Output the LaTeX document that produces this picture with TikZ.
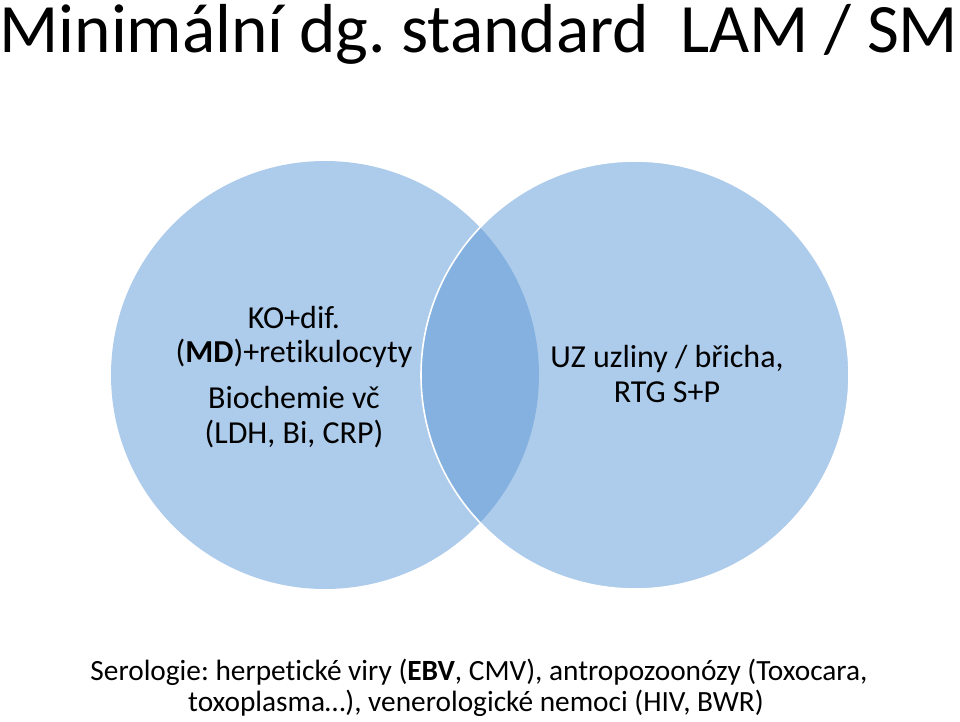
\documentclass[tikz,border=0pt]{standalone}
\usepackage{fontspec}
\setmainfont{Carlito}[Ligatures=NoCommon]
\definecolor{venn}{RGB}{91,151,213}
\begin{document}
\frenchspacing
\begin{tikzpicture}[x=0.75pt,y=-0.75pt,
  vcircle/.style={circle,minimum size=321pt,inner sep=0pt,fill=venn,fill opacity=0.5},
  line/.style={anchor=base,font=\fontsize{24}{29}\selectfont,inner sep=0pt,text=black},
  btext/.style={anchor=base,font=\fontsize{22}{27}\selectfont,inner sep=0pt,text=black}]
\useasboundingbox (0,0) rectangle (960,721);
\node[vcircle] (left) at (325,375) {};
\node[vcircle,draw=white,draw opacity=1,line width=1.2pt] (right) at (635,375) {};
\node[anchor=base,inner sep=0pt,font=\fontsize{52}{62}\selectfont] (title) at (479,52) {Minimální dg. standard\ \ LAM / SM};
\node[line] (l1) at (294,328) {KO+dif.};
\node[line] (l2) at (294,362) {(\textbf{MD})+retikulocyty};
\node[line] (l3) at (294,408) {Biochemie vč};
\node[line] (l4) at (294,443) {(LDH, Bi, CRP)};
\node[line] (r1) at (667,367) {UZ uzliny / břicha,};
\node[line] (r2) at (667,402) {RTG S+P};
\node[btext] (b1) at (479,680) {Serologie: herpetické viry (\textbf{EBV}, CMV), antropozoonózy (Toxocara,};
\node[btext] (b2) at (476,711) {toxoplasma\ldots), venerologické nemoci (HIV, BWR)};
\end{tikzpicture}
\end{document}
